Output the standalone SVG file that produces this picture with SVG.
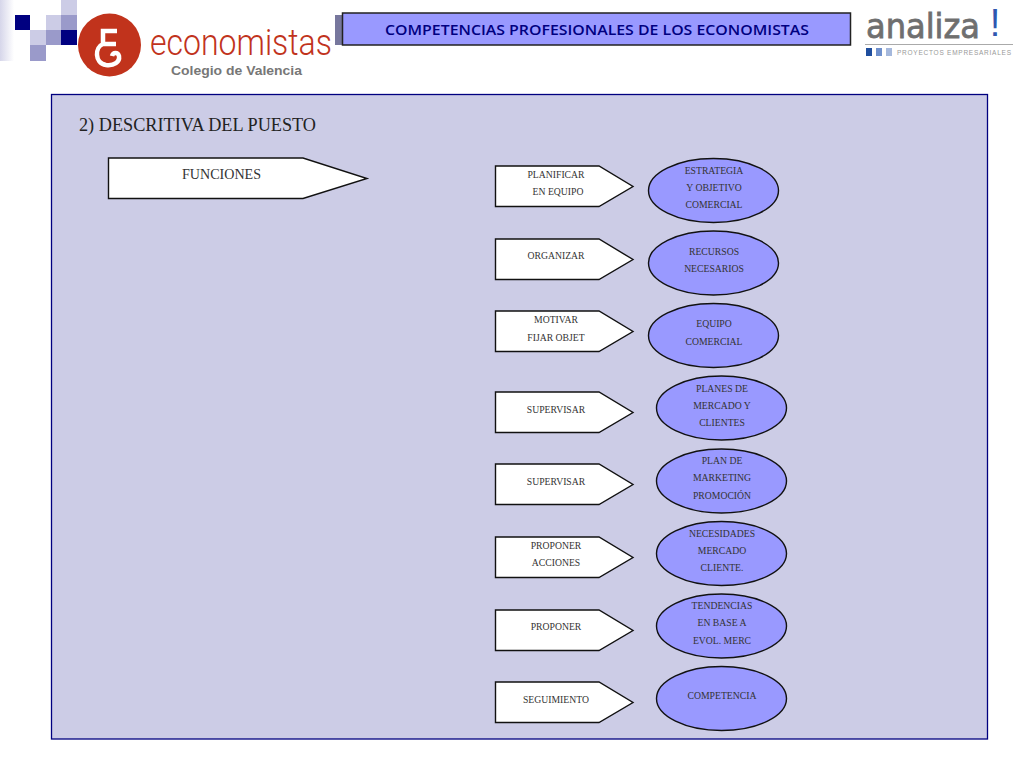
<svg xmlns="http://www.w3.org/2000/svg" width="1024" height="768" viewBox="0 0 1024 768">
<style>
.s{font-family:"Liberation Serif","Times New Roman",serif;fill:#333;text-anchor:middle;font-size:9.700px}
.p{fill:#fff;stroke:#111;stroke-width:1.400}
.e{fill:#9999ff;stroke:#111;stroke-width:1.400}
.n{fill:#000080}.m{fill:#9a9aca}.l{fill:#ccccE6}
</style>
<defs>
<linearGradient id="fade" x1="0" x2="1" y1="0" y2="0"><stop offset="0" stop-color="#d6d6ea"/><stop offset="1" stop-color="#fff"/></linearGradient>
<polygon id="arrow" class="p" points="495.500,0 599,0 633,20.500 599,40.500 495.500,40.500"/>
</defs>
<rect width="1024" height="768" fill="#fff"/>
<g id="logo-economistas">
<rect x="0" y="0" width="14" height="61" fill="url(#fade)"/>
<rect x="15" y="15" width="15" height="15" class="n"/>
<rect x="61" y="0" width="16" height="15" class="l"/>
<rect x="46" y="15" width="15" height="15" class="l"/>
<rect x="61" y="15" width="16" height="15" class="m"/>
<rect x="30" y="30" width="16" height="15" class="l"/>
<rect x="46" y="30" width="15" height="15" class="m"/>
<rect x="61" y="30" width="16" height="15" class="n"/>
<rect x="30" y="45" width="16" height="16" class="m"/>
<circle cx="109.500" cy="45" r="31.500" fill="#c1331c"/>
<path d="M117 31H103V44H116M103 44C95 47 94 63 106 65C114 66 120 62 119 56C118 52 113 52 112 56" fill="none" stroke="#fff" stroke-width="4.500"/>
<text x="150" y="55" font-family="Roboto,'Liberation Sans',sans-serif" font-weight="300" font-size="36" fill="#c1331c" textLength="182" lengthAdjust="spacingAndGlyphs">economistas</text>
<text x="171" y="75" font-family="'Liberation Sans',Arial,sans-serif" font-size="12.500" font-weight="bold" fill="#777" textLength="131" lengthAdjust="spacingAndGlyphs">Colegio de Valencia</text>
</g>
<g id="title">
<rect x="335" y="15" width="10" height="30" fill="#77779d"/>
<rect x="342.500" y="13" width="508" height="32" fill="#9999ff" stroke="#222" stroke-width="1.500"/>
<text x="597" y="35" font-family="'Open Sans','DejaVu Sans',sans-serif" font-size="14.500" font-weight="600" fill="#000080" text-anchor="middle" textLength="424" lengthAdjust="spacingAndGlyphs">COMPETENCIAS PROFESIONALES DE LOS ECONOMISTAS</text>
</g>
<g id="logo-analiza">
<text x="866" y="38" font-family="'DejaVu Sans',sans-serif" font-size="33" fill="#6f6f6f" stroke="#6f6f6f" stroke-width="0.800" textLength="114" lengthAdjust="spacingAndGlyphs">analiza</text>
<text x="995" y="36" font-family="'Liberation Sans',sans-serif" font-size="38" fill="#2f57b0" text-anchor="middle">!</text>
<rect x="865" y="44" width="148" height="1" fill="#aaa"/>
<rect x="866" y="48" width="6" height="8" fill="#1f4e9e"/>
<rect x="876" y="48" width="6" height="8" fill="#6f90cc"/>
<rect x="886" y="48" width="6" height="8" fill="#a5b8dc"/>
<text x="897" y="55" font-family="'Liberation Sans',sans-serif" font-size="6.500" fill="#999" textLength="114">PROYECTOS EMPRESARIALES</text>
</g>
<g id="panel">
<rect x="51.500" y="94.500" width="936" height="644.500" fill="#ccccE6" stroke="#000080" stroke-width="1.300"/>
<text x="79" y="131" font-family="'Liberation Serif',serif" font-size="19" fill="#222" textLength="237" lengthAdjust="spacingAndGlyphs">2) DESCRITIVA DEL PUESTO</text>
</g>
<g id="funciones">
<polygon class="p" points="108.500,158 303,158 367,178.500 303,198.500 108.500,198.500"/>
<text x="221.500" y="179" class="s" style="font-size:14px" textLength="79" lengthAdjust="spacingAndGlyphs">FUNCIONES</text>
</g>
<g id="connectors"></g>
<g id="f1"><use href="#arrow" y="166"/><text x="556" y="178" class="s">PLANIFICAR</text><text x="558" y="195" class="s">EN EQUIPO</text></g>
<g id="r1"><ellipse cx="713.500" cy="190.500" rx="65" ry="32" class="e"/><text x="714" y="174" class="s">ESTRATEGIA</text><text x="714" y="191" class="s">Y OBJETIVO</text><text x="714" y="208" class="s">COMERCIAL</text></g>
<g id="f2"><use href="#arrow" y="239"/><text x="556" y="259" class="s">ORGANIZAR</text></g>
<g id="r2"><ellipse cx="713.500" cy="263" rx="65" ry="32" class="e"/><text x="714" y="255" class="s">RECURSOS</text><text x="714" y="272" class="s">NECESARIOS</text></g>
<g id="f3"><use href="#arrow" y="311"/><text x="556" y="323" class="s">MOTIVAR</text><text x="556" y="341" class="s">FIJAR OBJET</text></g>
<g id="r3"><ellipse cx="713.500" cy="335.500" rx="65" ry="32" class="e"/><text x="714" y="327" class="s">EQUIPO</text><text x="714" y="345" class="s">COMERCIAL</text></g>
<g id="f4"><use href="#arrow" y="392"/><text x="556" y="413" class="s">SUPERVISAR</text></g>
<g id="r4"><ellipse cx="721.500" cy="408" rx="65" ry="32" class="e"/><text x="722" y="392" class="s">PLANES DE</text><text x="722" y="409" class="s">MERCADO Y</text><text x="722" y="426" class="s">CLIENTES</text></g>
<g id="f5"><use href="#arrow" y="464"/><text x="556" y="485" class="s">SUPERVISAR</text></g>
<g id="r5"><ellipse cx="721.500" cy="481" rx="65" ry="32" class="e"/><text x="722" y="464" class="s">PLAN DE</text><text x="722" y="481" class="s">MARKETING</text><text x="722" y="499" class="s">PROMOCIÓN</text></g>
<g id="f6"><use href="#arrow" y="537"/><text x="556" y="549" class="s">PROPONER</text><text x="556" y="566" class="s">ACCIONES</text></g>
<g id="r6"><ellipse cx="721.500" cy="553.500" rx="65" ry="32" class="e"/><text x="722" y="537" class="s">NECESIDADES</text><text x="722" y="554" class="s">MERCADO</text><text x="722" y="571" class="s">CLIENTE.</text></g>
<g id="f7"><use href="#arrow" y="610"/><text x="556" y="630" class="s">PROPONER</text></g>
<g id="r7"><ellipse cx="721.500" cy="626" rx="65" ry="32" class="e"/><text x="722" y="609" class="s">TENDENCIAS</text><text x="722" y="626" class="s">EN BASE A</text><text x="722" y="644" class="s">EVOL. MERC</text></g>
<g id="f8"><use href="#arrow" y="682"/><text x="556" y="703" class="s">SEGUIMIENTO</text></g>
<g id="r8"><ellipse cx="721.500" cy="698.500" rx="65" ry="32" class="e"/><text x="722" y="699" class="s">COMPETENCIA</text></g>
</svg>
